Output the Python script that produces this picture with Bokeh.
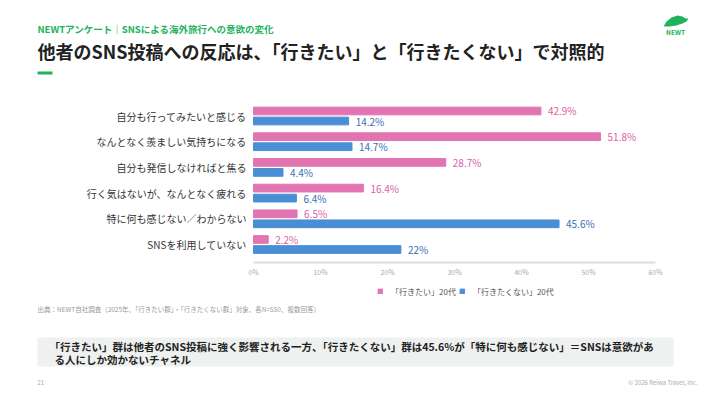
from bokeh.plotting import figure
from bokeh.models import (Range1d, FixedTicker, Label, BoxAnnotation, PolyAnnotation,
                          Legend, LegendItem, ColumnDataSource, LinearAxis)
from bokeh.core.properties import value
from bokeh.embed import file_html
from bokeh.resources import INLINE

categories = ["自分も行ってみたいと感じる", "なんとなく羨ましい気持ちになる", "自分も発信しなければと焦る",
              "行く気はないが、なんとなく疲れる", "特に何も感じない／わからない", "SNSを利用していない"]
want = [42.9, 51.8, 28.7, 16.4, 6.5, 2.2]
not_want = [14.2, 14.7, 4.4, 6.4, 45.6, 22]
want_labels = ["42.9%", "51.8%", "28.7%", "16.4%", "6.5%", "2.2%"]
not_want_labels = ["14.2%", "14.7%", "4.4%", "6.4%", "45.6%", "22%"]
x_ticks = [0, 10, 20, 30, 40, 50, 60]
series_names = ["「行きたい」20代", "「行きたくない」20代"]

FONT = "Noto Sans CJK JP"
PINK = "#E274B1"
BLUE = "#4A8ED6"
PINK_TXT = "#DB5FA3"
BLUE_TXT = "#3B6FB3"
GREEN = "#21B35C"

W, H = 710, 399
# layout geometry (canvas px): 0% at X0, 60% at X60; bottom row centre at Y0, row pitch ROW
X0, X60, Y0, ROW, AXIS_Y = 253.0, 655.0, 244.0, 25.7, 262.0
xr = Range1d(-X0 * 60 / (X60 - X0), (W - X0) * 60 / (X60 - X0))
yr = Range1d(-(H - Y0) / ROW, Y0 / ROW)

n = len(categories)
ypos = list(range(n - 1, -1, -1))  # top row first
src = ColumnDataSource(dict(y=ypos, cat=categories, want=want, nw=not_want,
                            wl=want_labels, nl=not_want_labels,
                            yw=[v + 0.195 for v in ypos], yn=[v - 0.195 for v in ypos]))

p = figure(width=W, height=H, output_backend="svg", toolbar_location=None,
           x_range=xr, y_range=yr, x_axis_location=None, y_axis_location=None,
           min_border=0)
p.outline_line_color = None
p.background_fill_color = "white"
p.border_fill_color = "white"
p.grid.visible = False

rw = p.hbar(y="yw", right="want", left=0, height=0.30, source=src, color=PINK)
rn = p.hbar(y="yn", right="nw", left=0, height=0.30, source=src, color=BLUE)

p.text(x="want", y="yw", text="wl", source=src, x_offset=7, text_baseline="middle",
       text_font=value(FONT), text_font_size="10px", text_color=PINK_TXT)
p.text(x="nw", y="yn", text="nl", source=src, x_offset=7, text_baseline="middle",
       text_font=value(FONT), text_font_size="10px", text_color=BLUE_TXT)

# axes (fixed inside the frame)
xa = LinearAxis(fixed_location=-(AXIS_Y - Y0) / ROW, bounds=(0, 60),
                ticker=FixedTicker(ticks=x_ticks),
                major_label_overrides={t: f"{t}%" for t in x_ticks},
                axis_line_color="#DDDDDD", axis_line_width=2,
                major_tick_line_color=None, minor_tick_line_color=None,
                major_tick_out=0, major_tick_in=0, minor_tick_out=0, minor_tick_in=0,
                major_label_text_font=FONT, major_label_text_font_size="7px",
                major_label_text_color="#AAAAAA", major_label_standoff=4)
p.add_layout(xa, "below")

ya = LinearAxis(fixed_location=0, bounds=(-0.5, n - 0.5),
                ticker=FixedTicker(ticks=ypos),
                major_label_overrides={y: c for y, c in zip(ypos, categories)},
                axis_line_color=None, major_tick_line_color=None, minor_tick_line_color=None,
                major_tick_out=0, major_tick_in=0, minor_tick_out=0, minor_tick_in=0,
                major_label_text_font=FONT, major_label_text_font_size="10px",
                major_label_text_color="#333333", major_label_standoff=7)
p.add_layout(ya, "left")


def sx(px):
    return px


def sy(py):
    return H - py


legend = Legend(items=[LegendItem(label=series_names[0], renderers=[rw]),
                       LegendItem(label=series_names[1], renderers=[rn])],
                orientation="horizontal", location=(sx(377), sy(296.5)),
                label_text_font=FONT, label_text_font_size="8px", label_text_color="#555555",
                glyph_width=6, glyph_height=6, label_height=8, label_standoff=8, spacing=3,
                padding=0, margin=0, border_line_color=None, background_fill_alpha=0)
p.add_layout(legend, "center")


def lab(px, py, txt, size, color, bold=False, align="left"):
    p.add_layout(Label(x=sx(px), y=sy(py), x_units="screen", y_units="screen", text=txt,
                       text_font=FONT, text_font_size=size, text_color=color,
                       text_font_style="bold" if bold else "normal",
                       text_align=align, text_baseline="middle"))


def box(l, t, r, b, color):
    p.add_layout(BoxAnnotation(left=sx(l), right=sx(r), top=sy(t), bottom=sy(b),
                               left_units="screen", right_units="screen",
                               top_units="screen", bottom_units="screen",
                               fill_color=color, fill_alpha=1, line_color=None, level="underlay"))


lab(37, 28, "NEWTアンケート｜SNSによる海外旅行への意欲の変化", "9.5px", GREEN, bold=True)
lab(37, 50, "他者のSNS投稿への反応は、「行きたい」と「行きたくない」で対照的", "18px", "#222222", bold=True)
box(37, 71, 52, 74, GREEN)

# logo
shell_x = [663, 666, 671, 677, 682, 685, 688, 686, 682, 676, 669]
shell_y = [26, 21, 17, 15, 16, 18, 18, 21, 23, 25, 26]
p.add_layout(PolyAnnotation(xs=[sx(v) for v in shell_x], ys=[sy(v) for v in shell_y],
                            xs_units="screen", ys_units="screen",
                            fill_color=GREEN, fill_alpha=1, line_color=None))
lab(675, 31, "NEWT", "6.5px", GREEN, bold=True, align="center")

lab(37, 308, "出典：NEWT自社調査（2025年、「行きたい群」・「行きたくない群」対象、各N=550、複数回答）",
    "6.5px", "#999999")

box(37, 337, 673, 366, "#EEF1EF")
lab(49, 346, "「行きたい」群は他者のSNS投稿に強く影響される一方、「行きたくない」群は45.6%が「特に何も感じない」＝SNSは意欲があ",
    "10.5px", "#222222", bold=True)
lab(54, 359, "る人にしか効かないチャネル", "10.5px", "#222222", bold=True)

lab(37, 382, "21", "6px", "#AAAAAA")
lab(697, 382, "© 2026 Reiwa Travel, Inc.", "6px", "#AAAAAA", align="right")

open("out.html", "w").write(file_html(p, INLINE))
